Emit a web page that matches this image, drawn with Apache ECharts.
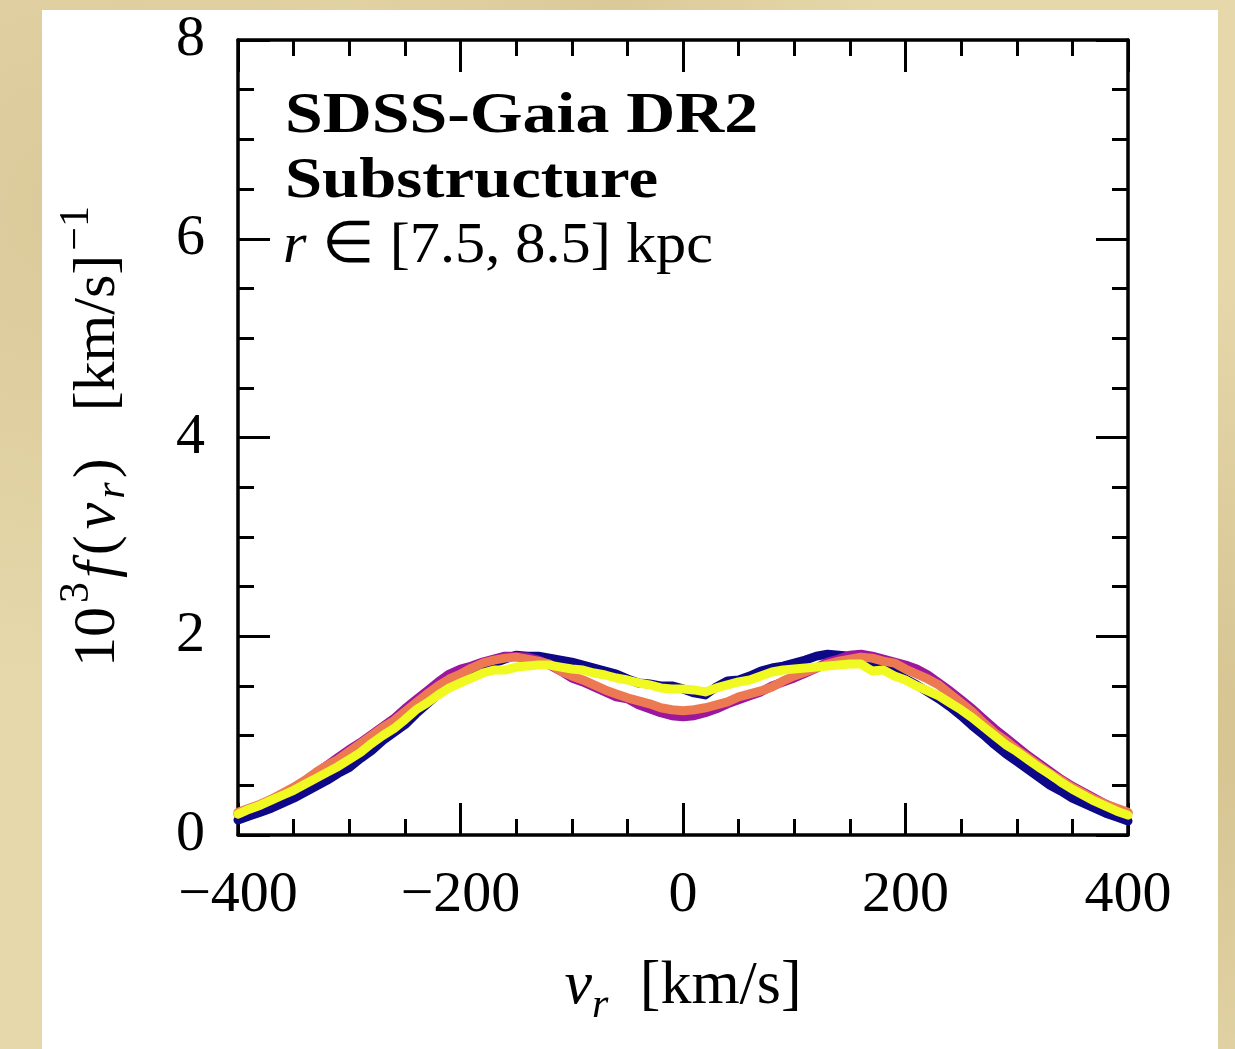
<!DOCTYPE html>
<html>
<head>
<meta charset="utf-8">
<script src="https://cdn.jsdelivr.net/npm/echarts@6/dist/echarts.min.js"></script>
<style>
html,body{margin:0;padding:0;width:1235px;height:1049px;overflow:hidden;}
body{background:#e6d8ab;
 background-image:
  radial-gradient(ellipse at 10% 20%, rgba(210,190,140,0.6), rgba(0,0,0,0) 40%),
  radial-gradient(ellipse at 90% 70%, rgba(200,180,125,0.6), rgba(0,0,0,0) 45%),
  radial-gradient(ellipse at 50% 0%, rgba(215,195,145,0.7), rgba(0,0,0,0) 30%);}
#panel{position:absolute;left:42px;top:10px;width:1176px;height:1039px;background:#ffffff;}
#chart{position:absolute;left:0;top:0;width:1235px;height:1049px;}
</style>
</head>
<body>
<div id="panel"></div>
<div id="chart"></div>
<script>
// radial velocity grid (km/s)
const vr = [];
for (let v = -400; v <= 400; v += 10) vr.push(v);

// 10^3 f(v_r) for each curve, sampled every 10 km/s from -400 to 400
const blueVals = [0.15,0.19,0.23,0.27,0.32,0.37,0.43,0.49,0.55,0.62,0.68,0.77,0.85,0.95,1.03,1.11,1.22,1.32,1.42,1.51,1.58,1.64,1.70,1.73,1.77,1.81,1.80,1.80,1.78,1.76,1.74,1.71,1.68,1.65,1.62,1.57,1.53,1.52,1.50,1.50,1.47,1.43,1.41,1.49,1.55,1.56,1.60,1.65,1.68,1.70,1.73,1.76,1.80,1.82,1.81,1.80,1.77,1.73,1.70,1.64,1.57,1.51,1.44,1.37,1.29,1.20,1.10,1.01,0.91,0.82,0.74,0.66,0.58,0.50,0.44,0.37,0.32,0.27,0.22,0.18,0.14];
const purpleVals = [0.21,0.26,0.30,0.35,0.41,0.47,0.54,0.62,0.70,0.78,0.86,0.93,1.01,1.09,1.17,1.27,1.36,1.45,1.54,1.62,1.67,1.70,1.74,1.77,1.80,1.80,1.79,1.76,1.71,1.65,1.58,1.54,1.49,1.44,1.39,1.37,1.31,1.27,1.23,1.20,1.19,1.20,1.23,1.27,1.32,1.36,1.40,1.44,1.50,1.54,1.58,1.63,1.68,1.74,1.77,1.81,1.82,1.80,1.77,1.74,1.71,1.67,1.61,1.53,1.45,1.36,1.27,1.17,1.07,0.98,0.89,0.80,0.72,0.64,0.56,0.49,0.43,0.37,0.31,0.26,0.22];
const orangeVals = [0.23,0.27,0.31,0.36,0.42,0.48,0.55,0.63,0.70,0.76,0.84,0.92,1.00,1.08,1.15,1.24,1.33,1.42,1.50,1.57,1.62,1.68,1.73,1.76,1.78,1.79,1.77,1.75,1.72,1.65,1.60,1.56,1.51,1.46,1.42,1.38,1.35,1.32,1.28,1.26,1.25,1.26,1.28,1.31,1.34,1.39,1.42,1.45,1.49,1.55,1.60,1.64,1.68,1.72,1.75,1.77,1.79,1.78,1.75,1.73,1.67,1.62,1.57,1.51,1.42,1.33,1.24,1.13,1.03,0.95,0.86,0.78,0.70,0.62,0.55,0.48,0.42,0.36,0.31,0.27,0.23];
const yellowVals = [0.21,0.26,0.30,0.35,0.40,0.45,0.51,0.57,0.63,0.69,0.76,0.83,0.92,1.00,1.07,1.16,1.26,1.33,1.41,1.48,1.53,1.58,1.63,1.66,1.66,1.69,1.70,1.71,1.71,1.69,1.67,1.66,1.63,1.61,1.58,1.56,1.53,1.51,1.48,1.47,1.47,1.46,1.44,1.48,1.51,1.54,1.56,1.60,1.64,1.66,1.67,1.68,1.69,1.70,1.71,1.72,1.72,1.65,1.66,1.60,1.56,1.50,1.45,1.40,1.33,1.26,1.18,1.09,1.00,0.91,0.84,0.76,0.68,0.61,0.53,0.46,0.40,0.34,0.29,0.24,0.20];

const xTicks = [-400, -200, 0, 200, 400];
const yTicks = [0, 2, 4, 6, 8];

const seriesDefs = [
  {name: 'blue', vals: blueVals, color: '#0d0887'},
  {name: 'purple', vals: purpleVals, color: '#9c179e'},
  {name: 'orange', vals: orangeVals, color: '#ed7953'},
  {name: 'yellow', vals: yellowVals, color: '#f0f921'}
];

const FONT = 'Liberation Serif';
const chart = echarts.init(document.getElementById('chart'), null, {renderer: 'canvas'});

const tickCommon = {
  axisLine: {show: true, onZero: false, lineStyle: {color: '#000', width: 3.5}},
  axisTick: {show: true, inside: true, length: 32, lineStyle: {color: '#000', width: 3}},
  minorTick: {show: true, splitNumber: 4, length: 16, lineStyle: {color: '#000', width: 3}},
  splitLine: {show: false},
  minorSplitLine: {show: false}
};
const fmt = v => (v < 0 ? '\u2212' + Math.abs(v) : String(v));

chart.setOption({
  animation: false,
  backgroundColor: 'transparent',
  grid: {left: 238, right: 107, top: 40, bottom: 214},
  xAxis: [
    Object.assign({
      type: 'value', position: 'bottom', min: -400, max: 400, interval: 200,
      axisLabel: {show: true, margin: 32, color: '#000', fontFamily: FONT, fontSize: 58,
        formatter: v => xTicks.includes(v) ? fmt(v) : ''},
      name: '{it|v}{sub|r} {n|[km/s]}', nameLocation: 'middle', nameGap: 110,
      nameTextStyle: {color: '#000', fontFamily: FONT, fontSize: 62, lineHeight: 84,
        rich: {
          it: {fontFamily: FONT, fontStyle: 'italic', fontSize: 62, color: '#000', verticalAlign: 'middle'},
          sub: {fontFamily: FONT, fontStyle: 'italic', fontSize: 42, color: '#000', verticalAlign: 'bottom', padding: [0,6,2,0]},
          n: {fontFamily: FONT, fontSize: 62, color: '#000', verticalAlign: 'middle', padding: [0,0,0,10]}
        }}
    }, tickCommon),
    Object.assign({
      type: 'value', position: 'top', min: -400, max: 400, interval: 200,
      axisLabel: {show: false}
    }, tickCommon)
  ],
  yAxis: [
    Object.assign({
      type: 'value', position: 'left', min: 0, max: 8, interval: 2,
      axisLabel: {show: true, margin: 33, color: '#000', fontFamily: FONT, fontSize: 58,
        formatter: v => yTicks.includes(v) ? fmt(v) : ''},
      name: '{n|10}{sup|3}{it|f}{n|(}{it|v}{sub|r}{n|)}{sp| }{n|[km/s]}{sup|\u22121}',
      nameLocation: 'middle', nameGap: 92, nameRotate: 90,
      nameTextStyle: {color: '#000', fontFamily: FONT, fontSize: 60, lineHeight: 96,
        rich: {
          n: {fontFamily: FONT, fontSize: 60, color: '#000', verticalAlign: 'middle', padding: [0,2,0,2]},
          it: {fontFamily: FONT, fontStyle: 'italic', fontSize: 60, color: '#000', verticalAlign: 'middle', padding: [0,4,0,4]},
          sp: {fontFamily: FONT, fontSize: 60, color: '#000', verticalAlign: 'middle', padding: [0,14,0,14]},
          sup: {fontFamily: FONT, fontSize: 42, color: '#000', verticalAlign: 'top', padding: [6,0,0,2]},
          sub: {fontFamily: FONT, fontStyle: 'italic', fontSize: 42, color: '#000', verticalAlign: 'bottom', padding: [0,2,12,0]}
        }}
    }, tickCommon),
    Object.assign({
      type: 'value', position: 'right', min: 0, max: 8, interval: 2,
      axisLabel: {show: false}
    }, tickCommon)
  ],
  graphic: [
    {type: 'text', left: 285, top: 88, style: {text: 'SDSS-Gaia DR2', fontFamily: FONT, fontWeight: 'bold', fontSize: 58, fill: '#000'}, scaleX: 1.17},
    {type: 'text', left: 285, top: 153, style: {text: 'Substructure', fontFamily: FONT, fontWeight: 'bold', fontSize: 58, fill: '#000'}, scaleX: 1.15},
    {type: 'text', left: 283, top: 218, style: {text: '{it|r} \u2208 [7.5, 8.5] kpc', fontFamily: FONT, fontSize: 58, fill: '#000',
      rich: {it: {fontFamily: FONT, fontStyle: 'italic', fontSize: 58, fill: '#000'}}}, scaleX: 1.04}
  ],
  series: seriesDefs.map(s => ({
    name: s.name, type: 'line', xAxisIndex: 0, yAxisIndex: 0,
    data: vr.map((v, i) => [v, s.vals[i]]),
    showSymbol: false, symbol: 'none', smooth: false, clip: true,
    lineStyle: {color: s.color, width: 9, join: 'round', cap: 'round'},
    emphasis: {disabled: true}
  }))
});
</script>
</body>
</html>
